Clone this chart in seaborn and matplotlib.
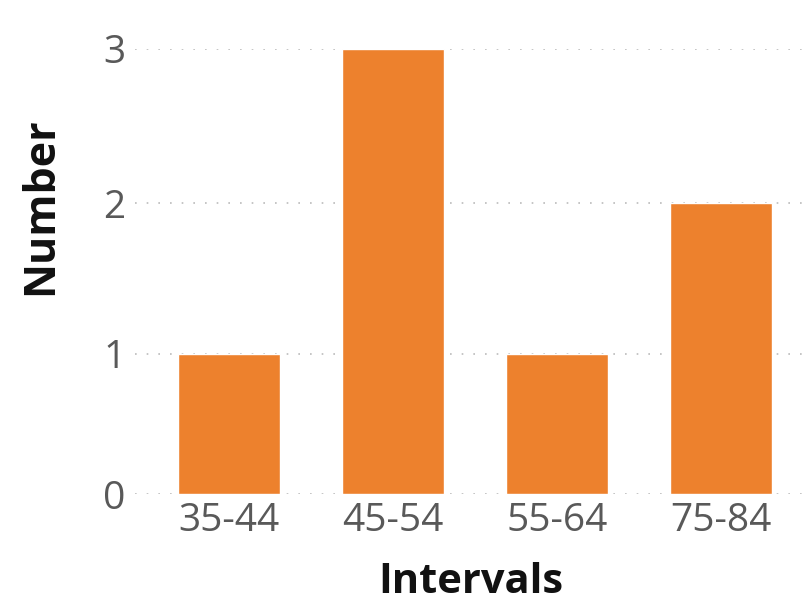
import numpy as np
import pandas as pd
import matplotlib
matplotlib.use("Agg")
import matplotlib.pyplot as plt
import seaborn as sns

intervals = ["35-44", "45-54", "55-64", "75-84"]
counts = [1, 3, 1, 2]
yticks = [0, 1, 2, 3]

df = pd.DataFrame({"Intervals": intervals, "Number": counts})

sns.set_style("white")
plt.rcParams["font.family"] = ["Open Sans", "DejaVu Sans"]

fig = plt.figure(figsize=(8.06, 6.04), dpi=100)
ax = fig.add_axes([0.1675, 0.1821, 0.8325, 0.7368])

sns.barplot(data=df, x="Intervals", y="Number", color="#ED812D",
            saturation=1, width=0.62, ax=ax)

# the source axis is a slight power scale (exponent ~1.05)
p = 1.05
ax.set_yscale("function", functions=(lambda v: np.sign(v) * np.abs(v) ** p,
                                     lambda v: np.sign(v) * np.abs(v) ** (1 / p)))
ax.set_ylim(0, 3)
ax.set_xlim(-0.573, 3.52)
ax.set_yticks(yticks)
ax.set_yticklabels([str(t) for t in yticks])
ax.yaxis.set_minor_locator(matplotlib.ticker.NullLocator())
ax.yaxis.grid(True, linestyle=(0, (1, 6)), color="#BBBBBB", linewidth=1.2)
ax.set_axisbelow(True)
for s in ax.spines.values():
    s.set_visible(False)
ax.tick_params(axis="both", length=0, labelsize=28, labelcolor="#595959")
ax.tick_params(axis="y", pad=7)
ax.tick_params(axis="x", pad=6)
for lab in ax.get_xticklabels() + ax.get_yticklabels():
    lab.set_clip_on(False)

ax.set_xlabel("Intervals", fontsize=30, fontweight="bold", color="#111111")
ax.set_ylabel("Number", fontsize=31, fontweight="bold", color="#111111")
ax.xaxis.set_label_coords(0.5, -0.152)
ax.yaxis.set_label_coords(-0.109, 0.647)

fig.savefig("out.png", dpi=100)
